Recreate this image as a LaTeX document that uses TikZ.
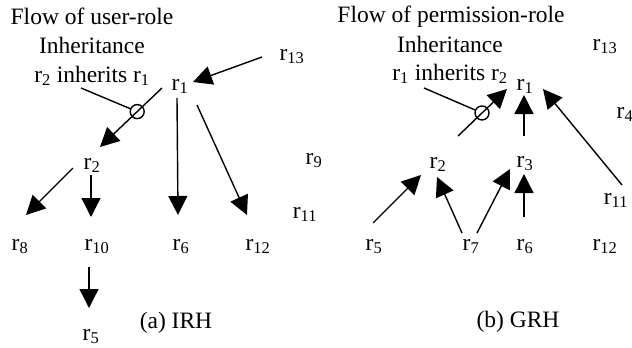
\documentclass[tikz,border=0pt]{standalone}
\usepackage{fontspec}
\setmainfont{Liberation Serif}
\usetikzlibrary{arrows.meta,calc}
\tikzset{
  lbl/.style={anchor=base,inner sep=0pt,font=\fontsize{23.5}{29}\selectfont},
  role/.style={anchor=base,inner sep=0pt,font=\fontsize{23.5}{29}\selectfont},
  arr/.style={line width=1.4pt,-{Triangle[length=19pt,width=19pt]}},
  ptr/.style={line width=1.4pt},
  circ/.style={circle,draw,line width=1.4pt,minimum size=14pt,inner sep=0pt}
}
\begin{document}
\begin{tikzpicture}[x=1pt,y=-1pt]
\useasboundingbox (0,0) rectangle (632,348);
% ---------- left: IRH ----------
\node[lbl] (tLa) at (92,24) {Flow of user-role};
\node[lbl] (tLb) at (92,53) {Inheritance};
\node[lbl] (tLc) at (92,82) {r\textsubscript{2} inherits r\textsubscript{1}};
\node[role] (L1) at (180,90) {r\textsubscript{1}};
\node[role] (L13) at (292,60) {r\textsubscript{13}};
\node[role] (L2) at (92,169) {r\textsubscript{2}};
\node[role] (L9) at (314,164) {r\textsubscript{9}};
\node[role] (L11) at (305,218) {r\textsubscript{11}};
\node[role] (L8) at (20,250) {r\textsubscript{8}};
\node[role] (L10) at (97,250) {r\textsubscript{10}};
\node[role] (L6) at (181,250) {r\textsubscript{6}};
\node[role] (L12) at (258,250) {r\textsubscript{12}};
\node[role] (L5) at (91,340) {r\textsubscript{5}};
\node[lbl] (capL) at (176,328) {(a) IRH};
\draw[arr] ($(L13.base)+(-30,-3)$) -- ($(L1.base)+(13,-8)$);
\draw[arr] ($(L1.base)+(-18,-2)$) -- node[circ,pos=0.4] (cL) {} ($(L2.base)+(8,-22)$);
\draw[ptr] ($(tLc.base)+(-11,6)$) -- (cL);
\draw[arr] ($(L2.base)+(-19,-1)$) -- ($(L8.base)+(6,-35)$);
\draw[arr] ($(L2.base)+(-1,6)$) -- ($(L10.base)+(-6,-33)$);
\draw[arr] ($(L10.base)+(-8,17)$) -- ($(L5.base)+(-2,-32)$);
\draw[arr] ($(L1.base)+(-3,8)$) -- ($(L6.base)+(-3,-35)$);
\draw[arr] ($(L1.base)+(17,15)$) -- ($(L12.base)+(-11,-35)$);
% ---------- right: GRH ----------
\node[lbl] (tRa) at (451,23) {Flow of permission-role};
\node[lbl] (tRb) at (450,52) {Inheritance};
\node[lbl] (tRc) at (450,80) {r\textsubscript{1} inherits r\textsubscript{2}};
\node[role] (R1) at (525,90) {r\textsubscript{1}};
\node[role] (R13) at (605,50) {r\textsubscript{13}};
\node[role] (R4) at (625,118) {r\textsubscript{4}};
\node[role] (R2) at (438,168) {r\textsubscript{2}};
\node[role] (R3) at (525,167) {r\textsubscript{3}};
\node[role] (R11) at (616,204) {r\textsubscript{11}};
\node[role] (R5) at (374,250) {r\textsubscript{5}};
\node[role] (R7) at (471,250) {r\textsubscript{7}};
\node[role] (R6) at (525,250) {r\textsubscript{6}};
\node[role] (R12) at (605,250) {r\textsubscript{12}};
\node[lbl] (capR) at (518,327) {(b) GRH};
\draw[arr] ($(R2.base)+(20,-32)$) -- node[circ,pos=0.49] (cR) {} ($(R1.base)+(-18,-1)$);
\draw[ptr] ($(tRc.base)+(-26,8)$) -- (cR);
\draw[arr] ($(R3.base)+(-1,-31)$) -- ($(R1.base)+(-1,5)$);
\draw[arr] ($(R11.base)+(6,-19)$) -- ($(R1.base)+(18,-1)$);
\draw[arr] ($(R5.base)+(-1,-27)$) -- ($(R2.base)+(-17,7)$);
\draw[arr] ($(R7.base)+(-9,-17)$) -- ($(R2.base)+(-1,9)$);
\draw[arr] ($(R7.base)+(6,-17)$) -- ($(R3.base)+(-15,2)$);
\draw[arr] ($(R6.base)+(-1,-33)$) -- ($(R3.base)+(-1,7)$);
\end{tikzpicture}
\end{document}
